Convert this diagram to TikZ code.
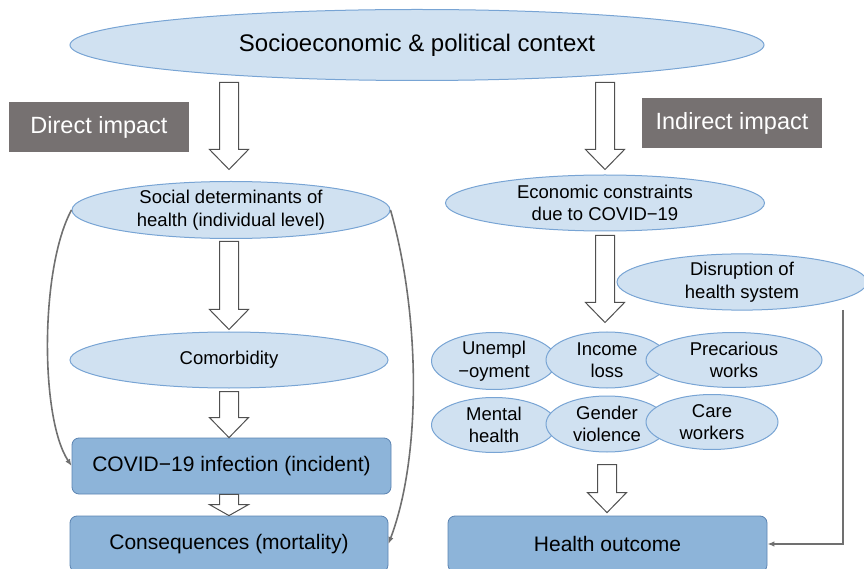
\documentclass[tikz,border=0pt]{standalone}
\usepackage{fontspec}
\setmainfont{Liberation Sans}
\usepackage{tikz}
\usetikzlibrary{arrows.meta,shapes.geometric,calc}
\definecolor{ellfill}{RGB}{208,225,241}
\definecolor{ellline}{RGB}{120,164,212}
\definecolor{boxfill}{RGB}{141,180,217}
\definecolor{boxline}{RGB}{92,132,178}
\definecolor{taggray}{RGB}{118,113,113}
\definecolor{arrgray}{RGB}{80,80,80}
\definecolor{curvegray}{RGB}{112,112,112}
% hollow block arrow: start point, tip point, optional head length
\newcommand{\hollowarr}[3][20pt]{%
  \draw[hollow] let \p1=#2, \p2=#3 in
    (\x1-9.5pt,\y1) -- (\x1+9.5pt,\y1) -- (\x1+9.5pt,\y2+#1) -- (\x1+19.5pt,\y2+#1)
    -- (\x1,\y2) -- (\x1-19.5pt,\y2+#1) -- (\x1-9.5pt,\y2+#1) -- cycle;}

\begin{document}
\begin{tikzpicture}[x=1pt, y=1pt,
  ell/.style={ellipse, draw=ellline, fill=ellfill, line width=1pt, inner sep=0pt,
    align=center, font=\fontsize{18.5}{22.5}\selectfont},
  box/.style={rectangle, rounded corners=7pt, draw=boxline, fill=boxfill, line width=0.8pt,
    minimum width=319pt, minimum height=56pt, font=\fontsize{21}{25}\selectfont},
  tag/.style={rectangle, fill=taggray, text=white, minimum width=180pt, minimum height=50pt,
    font=\fontsize{23.5}{28}\selectfont},
  hollow/.style={draw=arrgray, fill=white, line width=1pt},
  conn/.style={draw=curvegray, line width=1.6pt, -{Latex[length=7pt,width=5.5pt]}}
]
  \useasboundingbox (0,0) rectangle (864,568);

  \node[ell, minimum width=694pt, minimum height=71pt, font=\fontsize{24}{28}\selectfont]
    (ctx) at (417,523) {Socioeconomic \& political context};
  \node[tag] (direct) at (99,441) {Direct impact};
  \node[tag] (indirect) at (732,445) {Indirect impact};
  %
  \node[ell, minimum width=318pt, minimum height=57pt] (sdh) at (231,358)
    {Social determinants of\\health (individual level)};
  \node[ell, minimum width=318pt, minimum height=56pt] (como) at (229,208) {Comorbidity};
  \node[box] (covid) at (231.5,102) {COVID−19 infection (incident)};
  \node[box, minimum width=318pt] (cons) at (229,24) {Consequences (mortality)};
  %
  \node[ell, minimum width=319pt, minimum height=56pt] (eco) at (605,365)
    {Economic constraints\\due to COVID−19};
  \node[ell, minimum width=250pt, minimum height=55pt] (dis) at (742,286)
    {Disruption of\\health system};
  \node[ell, minimum width=125pt, minimum height=57pt] (unemp) at (494,207) {Unempl\\−oyment};
  \node[ell, minimum width=122pt, minimum height=56pt] (income) at (607,208) {Income\\loss};
  \node[ell, minimum width=176pt, minimum height=55pt] (prec) at (734,208) {Precarious\\works};
  \node[ell, minimum width=125pt, minimum height=55pt] (mental) at (494,143) {Mental\\health};
  \node[ell, minimum width=122pt, minimum height=56pt] (gender) at (607,144) {Gender\\violence};
  \node[ell, minimum width=132pt, minimum height=55pt] (care) at (712,146) {Care\\workers};
  \node[box] (ho) at (607.5,24) {Health outcome};
  \coordinate (disfoot) at (843,258);

  % block arrows
  \hollowarr{($(ctx.south -| como.north)+(0,-1.5)$)}{($(sdh.north)+(0,11.5)$)}
  \hollowarr{($(ctx.south -| eco.north)+(0,-1.5)$)}{($(eco.north)+(0,5)$)}
  \hollowarr{($(sdh.south -| como.north)+(0,-2.5)$)}{($(como.north)+(0,2)$)}
  \hollowarr{($(eco.south)+(0,-4)$)}{($(income.north)+(0,9)$)}
  \hollowarr{($(como.south)+(0,-3)$)}{(covid.north)}
  \hollowarr[11pt]{($(covid.south -| como.south)$)}{(cons.north)}
  \hollowarr{($(gender.south)+(0,-12)$)}{($(ho.north)+(0,3)$)}

  % side links
  \draw[conn] (sdh.west) .. controls (40,300) and (40,150) .. (covid.west);
  \draw[conn] (sdh.east) .. controls (421,250) and (421,110) .. (cons.east);
  \draw[conn] (disfoot) |- (ho.east);
\end{tikzpicture}
\end{document}
